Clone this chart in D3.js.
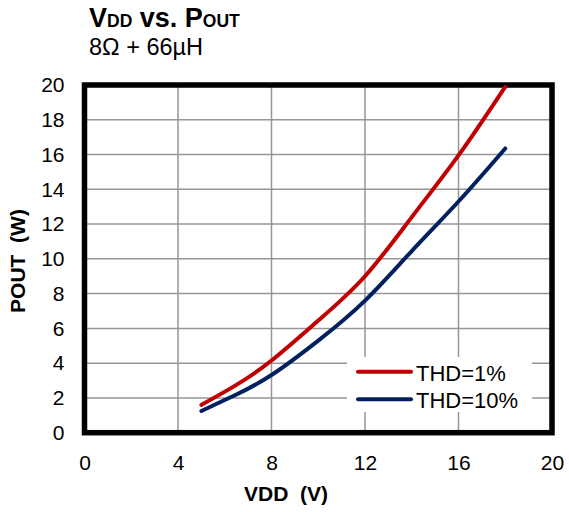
<!DOCTYPE html>
<html>
<head>
<meta charset="utf-8">
<script src="https://cdn.jsdelivr.net/npm/d3@7"></script>
<style>
    body { margin: 0; background: #fff; }
    text { font-family: "Liberation Sans", Arial, sans-serif; fill: #000; }
</style>
</head>
<body>
<script>
// VDD vs POUT chart
var vdd = [5, 6.5, 8, 10, 12, 14, 16, 18];
var thd1 = [1.6, 2.75, 4.15, 6.45, 9.0, 12.4, 15.95, 19.9];
var thd10 = [1.25, 2.2, 3.32, 5.3, 7.6, 10.45, 13.3, 16.35];
var seriesNames = ["THD=1%", "THD=10%"];
var seriesColors = ["#c00000", "#002060"];
var xTicks = [0, 4, 8, 12, 16, 20];
var yTicks = [0, 2, 4, 6, 8, 10, 12, 14, 16, 18, 20];

var width = 569,
    height = 512;

var svg = d3.select("body").append("svg")
    .attr("width", width)
    .attr("height", height);

var x = d3.scaleLinear()
    .domain([0, 20])
    .range([84.5, 552]);

var y = d3.scaleLinear()
    .domain([0, 20])
    .range([432.7, 85]);

// title
var title = svg.append("text")
    .attr("x", 89)
    .attr("y", 27)
    .style("font-weight", "bold")
    .style("font-size", "27px");
title.append("tspan").text("V");
title.append("tspan").style("font-size", "17.5px").text("DD");
title.append("tspan").text(" vs. P");
title.append("tspan").style("font-size", "17.5px").text("OUT");

svg.append("text")
    .attr("x", 89)
    .attr("y", 55)
    .style("font-size", "23.5px")
    .text("8\u03A9 + 66\u00B5H");

// grid
svg.append("g")
    .selectAll("line")
    .data(xTicks.slice(1, -1))
    .enter().append("line")
    .attr("x1", function(d) { return x(d); })
    .attr("x2", function(d) { return x(d); })
    .attr("y1", y(0))
    .attr("y2", y(20))
    .style("stroke", "#969696")
    .style("stroke-width", 1.5);

svg.append("g")
    .selectAll("line")
    .data(yTicks.slice(1, -1))
    .enter().append("line")
    .attr("x1", x(0))
    .attr("x2", x(20))
    .attr("y1", function(d) { return y(d); })
    .attr("y2", function(d) { return y(d); })
    .style("stroke", "#969696")
    .style("stroke-width", 1.5);

// axes (labels only)
var xAxis = svg.append("g")
    .attr("transform", "translate(0," + y(0) + ")")
    .call(d3.axisBottom(x).tickValues(xTicks).tickSize(0).tickPadding(22));
var yAxis = svg.append("g")
    .attr("transform", "translate(" + x(0) + ",0)")
    .call(d3.axisLeft(y).tickValues(yTicks).tickSize(0).tickPadding(20));

[xAxis, yAxis].forEach(function(a) {
    a.select(".domain").remove();
    a.selectAll("text")
        .style("font-family", "'Liberation Sans', Arial, sans-serif")
        .style("font-size", "21px")
        .style("fill", "#000");
});

// frame
svg.append("rect")
    .attr("x", x(0))
    .attr("y", y(20))
    .attr("width", x(20) - x(0))
    .attr("height", y(0) - y(20))
    .style("fill", "none")
    .style("stroke", "#000")
    .style("stroke-width", 5.5);

// axis titles
svg.append("text")
    .attr("x", 286)
    .attr("y", 501)
    .attr("text-anchor", "middle")
    .attr("xml:space", "preserve")
    .style("font-weight", "bold")
    .style("font-size", "21px")
    .text("VDD  (V)");

svg.append("text")
    .attr("transform", "translate(25,261) rotate(-90)")
    .attr("text-anchor", "middle")
    .attr("xml:space", "preserve")
    .style("font-weight", "bold")
    .style("font-size", "21px")
    .text("POUT  (W)");

// curves
var line = d3.line()
    .x(function(d) { return x(d[0]); })
    .y(function(d) { return y(d[1]); })
    .curve(d3.curveNatural);

[thd1, thd10].forEach(function(vals, i) {
    svg.append("path")
        .datum(vdd.map(function(v, j) { return [v, vals[j]]; }))
        .attr("d", line)
        .style("fill", "none")
        .style("stroke", seriesColors[i])
        .style("stroke-width", 4)
        .style("stroke-linecap", "round");
});

// legend
svg.append("rect")
    .attr("x", 347)
    .attr("y", 357)
    .attr("width", 185)
    .attr("height", 55)
    .style("fill", "#fff");

var legend = svg.selectAll(".legend")
    .data(seriesNames)
    .enter().append("g")
    .attr("class", "legend")
    .attr("transform", function(d, i) {
        return "translate(0," + (371.7 + i * 27.5) + ")";
    });

legend.append("line")
    .attr("x1", 358)
    .attr("x2", 411)
    .style("stroke", function(d, i) { return seriesColors[i]; })
    .style("stroke-width", 4)
    .style("stroke-linecap", "round");

legend.append("text")
    .attr("x", 416)
    .attr("y", 9)
    .style("font-size", "22px")
    .text(function(d) { return d; });
</script>
</body>
</html>
